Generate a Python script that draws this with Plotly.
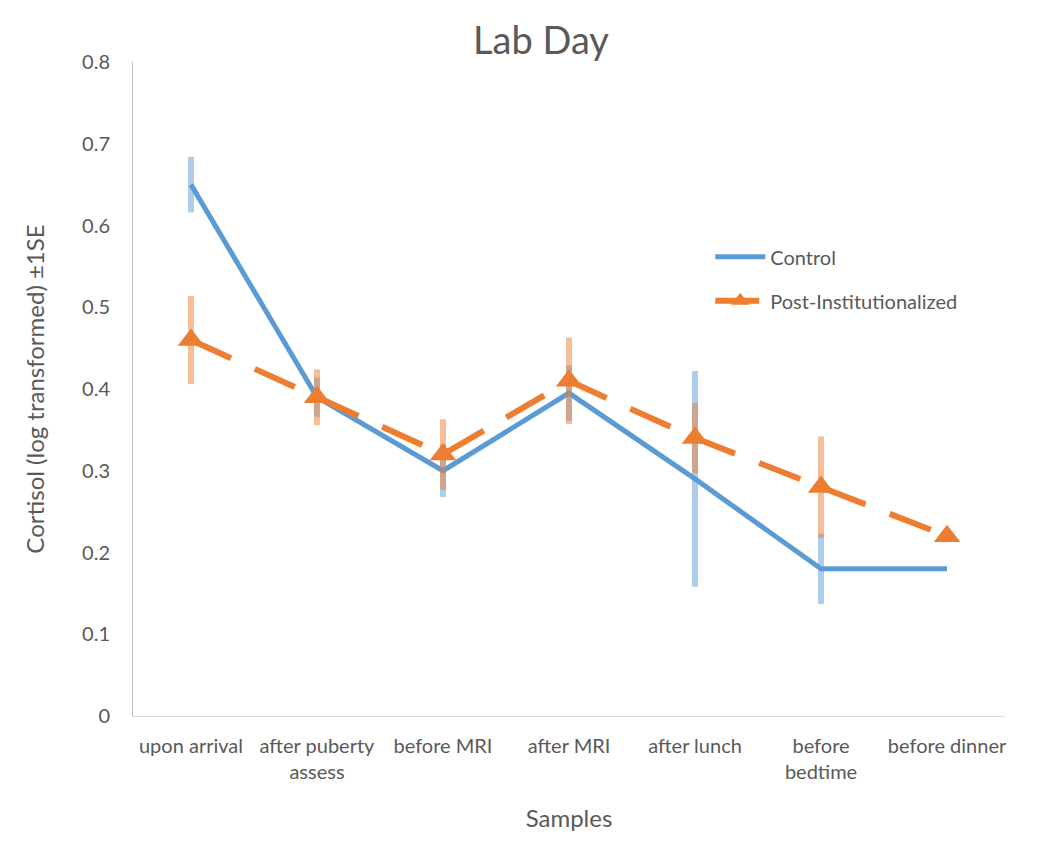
import plotly.graph_objects as go

categories = ["upon arrival", "after puberty<br>assess", "before MRI", "after MRI",
              "after lunch", "before<br>bedtime", "before dinner"]
control = [0.65, 0.39, 0.30, 0.395, 0.29, 0.18, 0.18]
control_se = [0.034, 0.024, 0.032, 0.034, 0.132, 0.043, 0.0]
post_inst = [0.46, 0.39, 0.32, 0.41, 0.34, 0.28, 0.22]
post_inst_se = [0.054, 0.034, 0.043, 0.053, 0.043, 0.062, 0.0]

BLUE = "#5B9BD5"
ORANGE = "#ED7D31"
TXT = "#595959"
FONT = "Lato, 'Open Sans', sans-serif"

fig = go.Figure()
fig.add_trace(go.Scatter(
    x=categories, y=control, name="Control", mode="lines",
    line=dict(color=BLUE, width=5),
    error_y=dict(type="data", array=control_se, visible=True,
                 color="rgba(91,155,213,0.5)", thickness=6, width=0),
    legendgroup="a",
))
fig.add_trace(go.Scatter(
    x=categories, y=post_inst, name="Post-Institutionalized", mode="lines+markers",
    line=dict(color=ORANGE, width=6, dash="44px,26px"),
    marker=dict(symbol="triangle-up", size=23, color=ORANGE),
    error_y=dict(type="data", array=post_inst_se, visible=True,
                 color="rgba(237,125,49,0.5)", thickness=6, width=0),
    legendgroup="b",
))

fig.update_layout(
    width=1050, height=841,
    paper_bgcolor="white", plot_bgcolor="white",
    margin=dict(l=125, r=53, t=54, b=133),
    font=dict(family=FONT, color=TXT, size=20),
    title=dict(text="Lab Day", x=533/1050, xanchor="center", y=1 - 33/841, yanchor="middle",
               font=dict(size=38, color=TXT, family=FONT)),
    showlegend=True,
    legend=dict(x=0.662, y=0.732, xanchor="left", yanchor="top",
                font=dict(size=20, color=TXT, family=FONT), itemwidth=50,
                bgcolor="rgba(0,0,0,0)", tracegroupgap=15, traceorder="grouped"),
)
fig.update_xaxes(
    showline=True, linecolor="#d9d9d9", linewidth=1, showgrid=False,
    ticks="", ticklabelstandoff=12, tickfont=dict(size=20, color=TXT),
    title=dict(text="Samples", font=dict(size=24, color=TXT), standoff=28),
)
fig.update_yaxes(
    range=[0, 0.8], showline=True, linecolor="#bfbfbf", linewidth=1,
    showgrid=False, zeroline=False,
    ticks="", ticklabelstandoff=18, tickfont=dict(size=20, color=TXT),
    tickvals=[0, 0.1, 0.2, 0.3, 0.4, 0.5, 0.6, 0.7, 0.8],
    ticktext=["0", "0.1", "0.2", "0.3", "0.4", "0.5", "0.6", "0.7", "0.8"],
    title=dict(text="Cortisol (log transformed) ±1SE", font=dict(size=24, color=TXT), standoff=30),
)

fig.write_html("out.html")
